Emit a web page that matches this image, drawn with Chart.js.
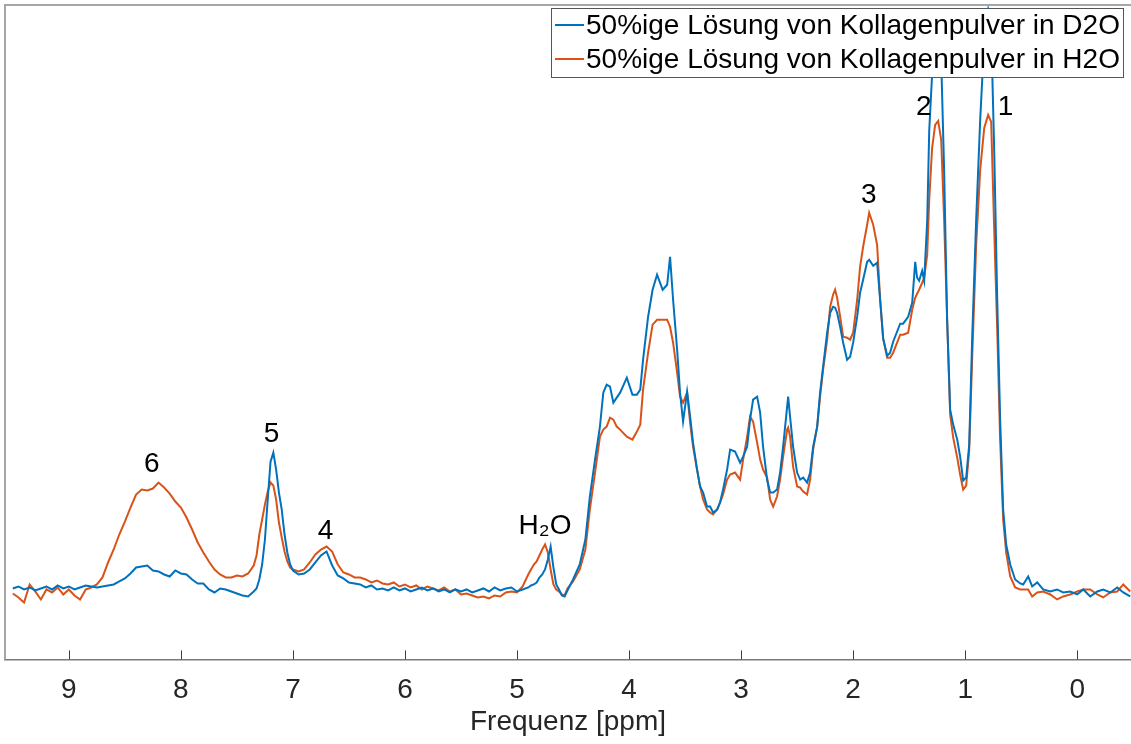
<!DOCTYPE html>
<html>
<head>
  <title>Kollagenpulver NMR</title>
  <script src="https://cdn.jsdelivr.net/npm/chart.js"></script>
  <style>
    body { margin: 0; background: #fff; }
    #wrap { width: 1131px; height: 744px; position: relative; }
  </style>
</head>
<body>
  <div id="wrap"><canvas id="chart"></canvas></div>

  <script>
    // chemical shift [ppm] and intensities (a.u.)
    var ppm = [9.50,9.45,9.40,9.35,9.30,9.25,9.20,9.15,9.10,9.05,9.00,8.95,8.90,8.85,8.80,8.75,8.70,8.65,8.60,8.55,
      8.50,8.45,8.40,8.35,8.30,8.25,8.20,8.15,8.10,8.05,8.00,7.95,7.90,7.85,7.80,7.75,7.70,7.65,7.60,7.55,
      7.50,7.45,7.40,7.35,7.325,7.30,7.275,7.25,7.225,7.20,7.175,7.15,7.125,7.10,7.075,7.05,7.025,7.00,6.95,6.90,
      6.85,6.80,6.75,6.70,6.65,6.60,6.55,6.50,6.45,6.40,6.35,6.30,6.25,6.20,6.15,6.10,6.05,6.00,5.95,5.90,
      5.85,5.80,5.75,5.70,5.65,5.60,5.55,5.50,5.45,5.40,5.35,5.30,5.25,5.20,5.15,5.10,5.05,5.00,4.95,4.90,
      4.875,4.85,4.825,4.80,4.775,4.75,4.725,4.70,4.675,4.65,4.625,4.60,4.575,4.55,4.50,4.44,4.39,4.35,4.30,4.26,
      4.23,4.20,4.17,4.14,4.11,4.08,4.02,3.97,3.93,3.90,3.875,3.83,3.79,3.75,3.70,3.66,3.634,3.607,3.571,3.545,
      3.518,3.482,3.455,3.429,3.393,3.366,3.339,3.304,3.277,3.250,3.214,3.188,3.161,3.125,3.098,3.054,3.009,2.982,2.946,2.920,
      2.893,2.857,2.830,2.804,2.768,2.741,2.714,2.679,2.652,2.625,2.589,2.580,2.563,2.536,2.500,2.473,2.446,2.411,2.384,2.357,
      2.321,2.295,2.268,2.232,2.205,2.179,2.161,2.143,2.116,2.089,2.054,2.027,2.000,1.964,1.938,1.911,1.875,1.857,1.821,1.786,
      1.759,1.732,1.696,1.670,1.643,1.580,1.554,1.509,1.473,1.446,1.429,1.411,1.384,1.366,1.339,1.321,1.295,1.268,1.241,1.214,
      1.188,1.161,1.134,1.107,1.071,1.045,1.018,0.991,0.964,0.938,0.902,0.866,0.830,0.795,0.768,0.741,0.714,0.688,0.661,0.634,
      0.598,0.554,0.509,0.482,0.438,0.402,0.357,0.304,0.241,0.179,0.125,0.063,0.000,-0.054,-0.116,-0.179,-0.232,-0.295,-0.357,-0.411,
      -0.473];

    var d2o = [1,3,0,2,-1,1,3,0,4,1,3,0,2,4,3,2,3,4,5,8,
      11,16,22,23,24,19,18,15,13,19,16,15,10,6,6,0,-3,1,0,-2,
      -4,-6,-7,-2,1,10,25,50,90,128,137,120,97,80,55,37,25,19,15,16,
      20,27,34,38,24,14,11,7,6,5,2,4,0,1,-1,2,-1,1,-2,0,
      2,-1,1,-2,0,-3,0,-2,0,-3,-1,1,-2,2,-1,1,2,-2,0,2,
      4,5,7,12,15,20,30,43,22,5,0,-6,-7,-1,10,25,50,93,133,163,
      197,205,203,187,192,197,212,195,195,200,230,273,300,315,300,305,333,290,240,197,
      168,198,173,147,120,103,97,83,83,77,80,87,100,120,140,138,127,133,143,170,
      190,193,177,143,110,97,97,100,117,143,183,193,173,143,117,110,112,107,117,143,
      163,197,223,257,277,283,282,277,263,247,230,233,247,273,297,310,328,330,324,327,
      290,251,234,237,248,266,266,273,287,328,312,309,319,309,369,459,516,560,570,530,
      420,270,180,165,150,133,109,112,145,250,370,470,550,580,560,440,290,170,80,45,
      25,10,6,5,13,3,7,0,-2,0,-3,-2,-5,0,-7,-2,0,-3,2,-3,
      -7];

    var h2o = [-4,-8,-13,5,-2,-10,0,-3,2,-5,0,-6,-10,0,2,5,12,27,40,55,
      68,82,95,100,99,101,107,102,96,88,82,72,60,47,37,28,20,15,12,12,
      14,13,16,24,34,55,70,85,98,107,104,90,67,52,38,28,22,20,18,20,
      27,35,40,43,38,25,17,15,12,12,10,7,9,6,5,7,3,5,2,4,
      0,3,1,-1,2,-2,0,-5,-4,-6,-8,-7,-9,-6,-7,-3,-2,-3,3,15,
      20,25,28,34,40,45,37,20,5,0,-2,-5,-6,1,8,20,40,80,120,153,
      160,163,172,170,163,160,153,150,158,165,200,237,265,270,270,270,263,247,217,193,
      187,197,167,143,120,103,90,80,77,75,80,87,95,110,115,117,110,130,153,173,
      168,147,130,120,112,90,83,93,110,133,160,162,153,123,103,102,98,95,110,140,
      163,193,220,250,283,295,300,292,273,253,252,250,257,290,323,343,365,377,365,345,
      290,251,232,232,237,255,255,257,280,292,296,300,307,312,335,390,442,465,469,450,
      370,270,175,152,132,115,100,104,140,230,345,420,462,475,468,360,260,150,70,37,
      13,2,0,0,0,-7,-3,-2,-5,-10,-7,-5,-2,0,0,-5,-8,-3,-2,5,
      -2];

    var seriesNames = ["50%ige Lösung von Kollagenpulver in D2O", "50%ige Lösung von Kollagenpulver in H2O"];
    var tickValues = [9, 8, 7, 6, 5, 4, 3, 2, 1, 0];

    // peak labels: text, ppm, intensity
    var peakLabels = [
      ["6", 8.26, 125], ["5", 7.19, 155], ["4", 6.71, 58], ["H\u2082O", 4.75, 63],
      ["3", 1.86, 395], ["2", 1.37, 483], ["1", 0.64, 483]
    ];

    var FONT = "'Liberation Sans', Arial, Helvetica, sans-serif";

    function pts(vals) {
      return ppm.map(function (p, i) { return { x: p, y: vals[i] }; });
    }

    var overlay = {
      id: "overlay",
      afterDraw: function (chart) {
        var ctx = chart.ctx, a = chart.chartArea;
        var xs = chart.scales.x, ys = chart.scales.y;
        ctx.save();

        // ticks pointing inwards
        ctx.strokeStyle = "#404040";
        ctx.lineWidth = 1;
        tickValues.forEach(function (v) {
          var px = Math.round(xs.getPixelForValue(v)) + 0.5;
          ctx.beginPath();
          ctx.moveTo(px, a.bottom);
          ctx.lineTo(px, a.bottom - 9);
          ctx.stroke();
        });

        // box on the left and top
        ctx.strokeStyle = "#a6a6a6";
        ctx.lineWidth = 2;
        ctx.beginPath();
        ctx.moveTo(a.left, a.bottom);
        ctx.lineTo(a.left, a.top);
        ctx.lineTo(a.right, a.top);
        ctx.stroke();

        // peak numbers
        ctx.fillStyle = "#000";
        ctx.font = "28px " + FONT;
        ctx.textAlign = "center";
        ctx.textBaseline = "middle";
        peakLabels.forEach(function (l) {
          ctx.fillText(l[0], xs.getPixelForValue(l[1]), ys.getPixelForValue(l[2]));
        });

        // legend box
        var lx = 551, ly = 8, lw = 572, lh = 69;
        ctx.fillStyle = "#fff";
        ctx.fillRect(lx, ly, lw, lh);
        ctx.strokeStyle = "#555";
        ctx.lineWidth = 1;
        ctx.strokeRect(lx + 0.5, ly + 0.5, lw, lh);
        ctx.textAlign = "left";
        chart.data.datasets.forEach(function (ds, i) {
          var yy = 25 + i * 34;
          ctx.strokeStyle = ds.borderColor;
          ctx.lineWidth = 2;
          ctx.beginPath();
          ctx.moveTo(555, yy);
          ctx.lineTo(584, yy);
          ctx.stroke();
          ctx.fillStyle = "#000";
          ctx.fillText(ds.label, 586, yy + 1);
        });
        ctx.restore();
      }
    };

    var ctx = document.getElementById("chart").getContext("2d");
    var chart = new Chart(ctx, {
      type: "line",
      data: {
        datasets: [{
          label: seriesNames[0],
          data: pts(d2o),
          borderColor: "#0072BD",
          borderWidth: 2,
          pointRadius: 0,
          tension: 0
        }, {
          label: seriesNames[1],
          data: pts(h2o),
          borderColor: "#D95319",
          borderWidth: 2,
          pointRadius: 0,
          tension: 0
        }]
      },
      options: {
        responsive: true,
        maintainAspectRatio: false,
        animation: false,
        layout: { padding: { left: 5, top: 5, right: 0, bottom: 4 } },
        plugins: {
          legend: { display: false },
          tooltip: { enabled: false }
        },
        scales: {
          x: {
            type: "linear",
            reverse: true,
            min: -0.48,
            max: 9.57,
            afterBuildTicks: function (scale) {
              scale.ticks = tickValues.map(function (v) { return { value: v }; });
            },
            grid: { display: false, drawTicks: false },
            border: { display: true, color: "#7a7a7a", width: 1.5 },
            ticks: {
              padding: 14,
              color: "#262626",
              font: { family: FONT, size: 28 },
              maxRotation: 0,
              autoSkip: false
            },
            title: {
              display: true,
              text: "Frequenz [ppm]",
              color: "#262626",
              font: { family: FONT, size: 28, lineHeight: 1.0 },
              padding: { top: -13, bottom: 4 }
            }
          },
          y: {
            display: false,
            min: -70,
            max: 585
          }
        }
      },
      plugins: [overlay]
    });
  </script>
</body>
</html>
